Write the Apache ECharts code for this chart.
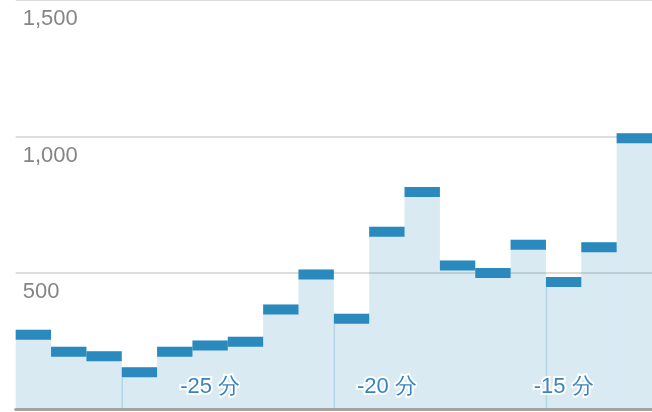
<!DOCTYPE html>
<html>
<head>
<meta charset="utf-8">
<script src="https://cdn.jsdelivr.net/npm/echarts@6/dist/echarts.min.js"></script>
<style>
html,body{margin:0;padding:0;background:#fff;}
#chart{width:652px;height:412px;}
</style>
</head>
<body>
<div id="chart"></div>
<script>
// Minutes before now (one bar per minute)
const categories = ['-30 分','-29 分','-28 分','-27 分','-26 分','-25 分','-24 分','-23 分','-22 分','-21 分','-20 分','-19 分','-18 分','-17 分','-16 分','-15 分','-14 分','-13 分'];
const values = [292, 230, 213, 154, 230, 252, 266, 384, 513, 350, 669, 815, 546, 518, 622, 485, 612, 1012];
const xTickLabels = ['-25 分', '-20 分', '-15 分'];
const yTicks = [0, 500, 1000, 1500];
const dividerCategories = ['-27 分', '-21 分', '-15 分'];

const chart = echarts.init(document.getElementById('chart'), null, {renderer: 'canvas'});

const CAP = 10;
const option = {
  animation: false,
  backgroundColor: '#ffffff',
  grid: {left: 15.7, right: 0, top: -4.2, bottom: 2.6, containLabel: false},
  xAxis: {
    type: 'category',
    data: categories,
    boundaryGap: true,
    axisLine: {show: true, lineStyle: {color: '#a3a3a3', width: 3}},
    axisTick: {show: false},
    splitLine: {show: false},
    axisLabel: {
      inside: true,
      margin: 11,
      interval: (i, v) => xTickLabels.includes(v),
      color: '#3a84bd',
      fontSize: 22,
      fontFamily: 'Liberation Sans, Arial, sans-serif',
      textBorderColor: '#ffffff',
      textBorderWidth: 4
    },
    z: 5
  },
  yAxis: {
    type: 'value',
    min: yTicks[0],
    max: yTicks[yTicks.length - 1],
    interval: 500,
    axisLine: {show: false},
    axisTick: {show: false},
    splitLine: {show: true, lineStyle: {color: '#dcdcdc', width: 2}},
    axisLabel: {
      inside: true,
      margin: 7,
      verticalAlign: 'top',
      padding: [8, 0, 0, 0],
      color: '#858585',
      fontSize: 22,
      fontFamily: 'Liberation Sans, Arial, sans-serif',
      formatter: v => (v === 0 ? '' : v.toLocaleString('en-US'))
    },
    z: 0
  },
  series: [{
    type: 'custom',
    data: values.map((v, i) => [i, v]),
    encode: {x: 0, y: 1},
    z: 2,
    renderItem: function (params, api) {
      const idx = api.value(0);
      const top = api.coord([idx, api.value(1)]);
      const base = api.coord([idx, 0]);
      const w = api.size([1, 0])[0];
      const x0 = top[0] - w / 2;
      const children = [
        {type: 'rect', shape: {x: x0, y: top[1], width: w, height: base[1] - top[1]},
         style: {fill: 'rgba(42,137,190,0.18)'}},
        {type: 'rect', shape: {x: x0, y: top[1], width: w, height: CAP},
         style: {fill: '#2a89bd'}}
      ];
      if (dividerCategories.includes(categories[idx])) {
        children.push({type: 'line', shape: {x1: x0 + 0.5, y1: top[1] + CAP, x2: x0 + 0.5, y2: base[1]},
          style: {stroke: '#b3d5e6', lineWidth: 1.5}});
      }
      return {type: 'group', children: children};
    }
  }]
};
chart.setOption(option);
</script>
</body>
</html>
